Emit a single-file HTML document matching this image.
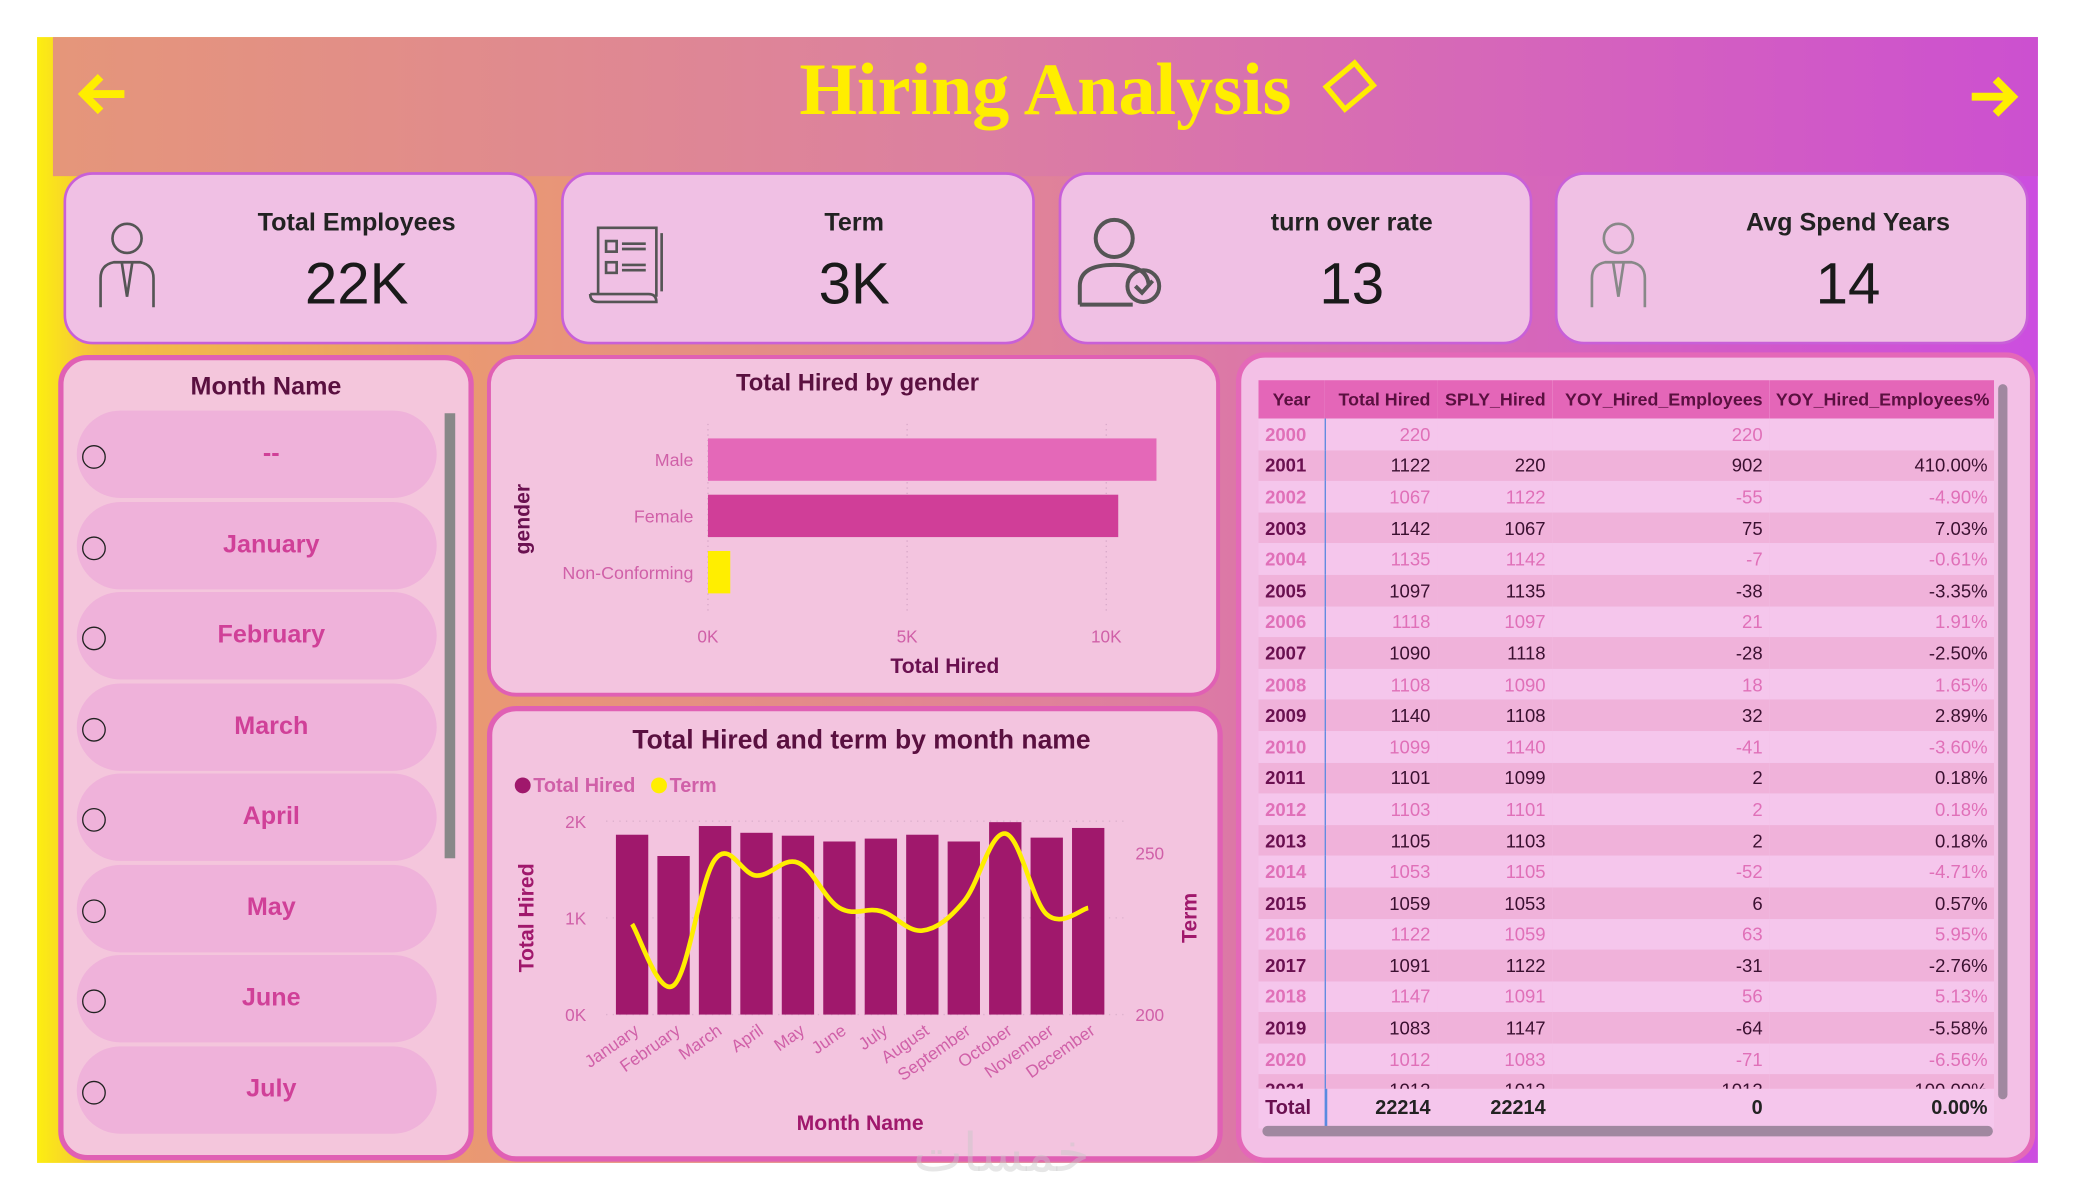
<!DOCTYPE html>
<html><head><meta charset="utf-8"><style>
*{box-sizing:border-box;margin:0;padding:0}
html,body{width:2075px;height:1200px;overflow:hidden;background:#fff;font-family:"Liberation Sans","DejaVu Sans",sans-serif}
#root{position:absolute;left:0;top:0;width:1568px;height:906px;transform:scale(1.3233,1.3245);transform-origin:0 0}
.abs{position:absolute}
#bg{left:28px;top:28px;width:1512px;height:850px;background:linear-gradient(90deg,#fcee10 0%,#f4c040 3%,#ea9a70 20%,#de7ea0 55%,#d25ac8 85%,#cc4ee0 100%)}
#hdr{left:40px;top:28px;width:1500px;height:105px;background:linear-gradient(90deg,#e5967a,#dc80a0 45%,#d460c0 80%,#cc50d0)}
.card{position:absolute;top:130px;width:358px;height:130px;border:2px solid #c860d8;border-radius:22px;background:#f0c0e4}
.card .t{position:absolute;left:0;right:0;top:26px;text-align:center;font-weight:bold;font-size:19px;color:#222;padding-left:85px}
.card .v{position:absolute;left:0;right:0;top:58px;text-align:center;font-size:44px;color:#1a1a1a;padding-left:85px}
.panel{position:absolute;border:4px solid #e060b4;border-radius:22px;background:#f3c4df}
.item{position:absolute;left:10px;width:272px;height:66px;border-radius:33px;background:#efb2da}
.item span{position:absolute;left:22px;right:0;top:22px;text-align:center;font-weight:bold;font-size:19px;color:#d04098}
.radio{position:absolute;left:14px;width:18px;height:18px;border:1.5px solid #222;border-radius:50%}
table{border-collapse:collapse;font-size:14px;table-layout:fixed}
td,th{height:23.6px;padding:0 5px;white-space:nowrap;overflow:hidden}
th{background:#e466b8;color:#5a1040;font-size:13.5px;height:29px;text-align:right}
td{text-align:right}
tr.o td{color:#e070b8;background:#f5c6ec}
tr.e td{color:#3a1030;background:#f0b2da}
td.y{text-align:left;font-weight:bold;border-right:1.5px solid #5a8ae0}
tr.o td.y{color:#e070b8} tr.e td.y{color:#6a1050}
</style></head><body>
<div id="root">
<div class="abs" id="bg"></div>
<div class="abs" id="hdr"></div>
<svg class="abs" style="left:58px;top:54px" width="40" height="34"><path d="M36 17H6M18 4L5 17l13 13" fill="none" stroke="#ffee00" stroke-width="6"/></svg>
<svg class="abs" style="left:1486px;top:56px" width="40" height="34"><path d="M4 17h30M22 4l13 13-13 13" fill="none" stroke="#ffee00" stroke-width="6"/></svg>
<div class="abs" style="left:560px;top:36px;width:460px;text-align:center;font-family:'Liberation Serif',serif;font-weight:bold;font-size:56px;color:#ffee00">Hiring Analysis</div>
<svg class="abs" style="left:994px;top:40px" width="52" height="52"><rect x="12" y="14" width="28" height="22" transform="rotate(-40 26 25)" fill="none" stroke="#ffee00" stroke-width="4"/></svg>

<div class="card" style="left:48px">
<svg class="abs" style="left:20px;top:32px" width="52" height="70"><g fill="none" stroke="#555" stroke-width="2"><circle cx="26" cy="16" r="11"/><path d="M6 68V46q0-10 10-12h20q10 2 10 12v22M22 34l4 26 4-26"/></g></svg>
<div class="t">Total Employees</div><div class="v">22K</div></div>
<div class="card" style="left:424px">
<svg class="abs" style="left:16px;top:34px" width="66" height="64"><g fill="none" stroke="#555" stroke-width="2"><path d="M10 56V6h44v52M4 56h44q6 0 6 6H10q-6 0-6-6"/><rect x="16" y="16" width="8" height="8"/><rect x="16" y="32" width="8" height="8"/><path d="M28 18h18M28 22h18M28 34h18M28 38h18M58 10v44"/></g></svg>
<div class="t">Term</div><div class="v">3K</div></div>
<div class="card" style="left:800px">
<svg class="abs" style="left:10px;top:30px" width="70" height="72"><g fill="none" stroke="#555" stroke-width="3"><circle cx="30" cy="18" r="14"/><path d="M4 68V54q0-16 26-16t26 16M4 68h40"/><circle cx="52" cy="54" r="12"/><path d="M46 54l5 5 8-9"/></g></svg>
<div class="t">turn over rate</div><div class="v">13</div></div>
<div class="card" style="left:1175px">
<svg class="abs" style="left:20px;top:32px" width="52" height="70"><g fill="none" stroke="#888" stroke-width="2"><circle cx="26" cy="16" r="11"/><path d="M6 68V46q0-10 10-12h20q10 2 10 12v22M22 34l4 26 4-26"/></g></svg>
<div class="t">Avg Spend Years</div><div class="v">14</div></div>

<!-- Slicer -->
<div class="panel" style="left:44px;top:268px;width:314px;height:608px;background:#f4c6dc">
<div class="abs" style="left:0;right:0;top:10px;text-align:center;font-weight:bold;font-size:19px;color:#5a1040">Month Name</div>
<div class="abs" style="left:288px;top:40px;width:8px;height:336px;background:#888"></div>
<div class="item" style="top:38px"><span>--</span></div>
<div class="item" style="top:107px"><span>January</span></div>
<div class="item" style="top:175px"><span>February</span></div>
<div class="item" style="top:244px"><span>March</span></div>
<div class="item" style="top:312px"><span>April</span></div>
<div class="item" style="top:381px"><span>May</span></div>
<div class="item" style="top:449px"><span>June</span></div>
<div class="item" style="top:518px"><span>July</span></div>
<div class="radio" style="top:64px"></div>
<div class="radio" style="top:133px"></div>
<div class="radio" style="top:201px"></div>
<div class="radio" style="top:270px"></div>
<div class="radio" style="top:338px"></div>
<div class="radio" style="top:407px"></div>
<div class="radio" style="top:475px"></div>
<div class="radio" style="top:544px"></div>
</div>

<!-- Gender chart -->
<div class="panel" style="left:368px;top:268px;width:554px;height:258px;border-width:3px"></div>
<svg class="abs" id="gsvg" style="left:0;top:0" width="1568" height="906"></svg>

<!-- Month chart -->
<div class="panel" style="left:368px;top:533px;width:556px;height:344px"></div>
<svg class="abs" id="msvg" style="left:0;top:0" width="1568" height="906"></svg>

<!-- Table -->
<div class="panel" style="left:934px;top:266px;width:604px;height:612px;background:#f3c0e6;border-color:#e468b8">
<div class="abs" style="left:13px;top:17px;width:556px;height:565px;overflow:hidden">
<table style="width:556px">
<colgroup><col style="width:50px"><col style="width:85px"><col style="width:87px"><col style="width:164px"><col style="width:170px"></colgroup>
<thead><tr><th style="text-align:center">Year</th><th>Total Hired</th><th>SPLY_Hired</th><th>YOY_Hired_Employees</th><th>YOY_Hired_Employees%</th></tr></thead>
<tbody id="tb"></tbody>
</table>
<div class="abs" style="left:0;top:535px;width:556px;height:30px;background:#f5c6ec;font-weight:bold;font-size:15px;color:#222">
<span class="abs" style="left:5px;top:6px;color:#6a1050">Total</span><span class="abs" style="right:426px;top:6px">22214</span><span class="abs" style="right:339px;top:6px">22214</span><span class="abs" style="right:175px;top:6px">0</span><span class="abs" style="right:5px;top:6px">0.00%</span>
<div class="abs" style="left:50px;top:0;width:1.5px;height:30px;background:#5a8ae0"></div></div>
</div>
<div class="abs" style="left:572px;top:20px;width:7px;height:540px;background:#a088a0;border-radius:4px"></div>
<div class="abs" style="left:16px;top:580px;width:552px;height:8px;background:#a088a0;border-radius:4px"></div>
</div>
<div class="abs" style="left:690px;top:848px;font-size:40px;color:rgba(200,200,200,0.45);font-family:'DejaVu Sans',sans-serif">خمسات</div>
</div>

<script>
const NS="http://www.w3.org/2000/svg";
function mk(p,t,a,txt){const e=document.createElementNS(NS,t);for(const k in a)e.setAttribute(k,a[k]);if(txt!==undefined)e.textContent=txt;p.appendChild(e);return e;}

// ---- gender chart data ----
const genderCats=["Male","Female","Non-Conforming"];
const genderVals=[11260,10300,560];
const genderColors=["#e468b8","#d03e98","#ffee00"];
const genderTicks=[0,5000,10000];
const genderTickLabels=["0K","5K","10K"];

// ---- month chart data ----
const months=["January","February","March","April","May","June","July","August","September","October","November","December"];
const hiredVals=[1860,1640,1950,1880,1850,1790,1820,1860,1790,1990,1830,1930];
const termVals=[228,209,248,243,247,233,232,226,235,256,231,233];
const hiredTicks=[0,1000,2000];
const hiredTickLabels=["0K","1K","2K"];
const termTicks=[200,250];

// ---- table data ----
const years=[2000,2001,2002,2003,2004,2005,2006,2007,2008,2009,2010,2011,2012,2013,2014,2015,2016,2017,2018,2019,2020,2021];
const totalHired=[220,1122,1067,1142,1135,1097,1118,1090,1108,1140,1099,1101,1103,1105,1053,1059,1122,1091,1147,1083,1012,1012];
const splyHired=["",220,1122,1067,1142,1135,1097,1118,1090,1108,1140,1099,1101,1103,1105,1053,1059,1122,1091,1147,1083,1012];
const yoyHired=[220,902,-55,75,-7,-38,21,-28,18,32,-41,2,2,2,-52,6,63,-31,56,-64,-71,-1012];
const yoyPct=["","410.00%","-4.90%","7.03%","-0.61%","-3.35%","1.91%","-2.50%","1.65%","2.89%","-3.60%","0.18%","0.18%","0.18%","-4.71%","0.57%","5.95%","-2.76%","5.13%","-5.58%","-6.56%","-100.00%"];

// gender chart
(function(){
 const s=document.getElementById('gsvg');
 const x0=535,x1=836,xMax=10000;
 const gx=v=>x0+(v/xMax)*(x1-x0);
 const bandTop=331,band=42.5,bh=32;
 let t=mk(s,'text',{x:648,y:295,'text-anchor':'middle','font-size':18,'font-weight':'bold',fill:'#5a1040'},'Total Hired by gender');
 
 genderTicks.forEach((v,i)=>{
  const g=mk(s,'line',{x1:gx(v),x2:gx(v),y1:320,y2:462,stroke:'#d8a8c8','stroke-dasharray':'1 3'});
  
  const l=mk(s,'text',{x:gx(v),y:485,'text-anchor':'middle','font-size':13,fill:'#d060a8'},genderTickLabels[i]);
  
 });
 genderCats.forEach((c,i)=>{
  const y=bandTop+i*band;
  const r=mk(s,'rect',{x:x0,y:y,width:gx(genderVals[i])-x0,height:bh,fill:genderColors[i]});
  
  const l=mk(s,'text',{x:524,y:y+bh/2+5,'text-anchor':'end','font-size':13.5,fill:'#d060a8'},c);
  
 });
 let a=mk(s,'text',{x:714,y:508,'text-anchor':'middle','font-size':16,'font-weight':'bold',fill:'#6a1050'},'Total Hired');
 
 let b=mk(s,'text',{x:0,y:0,transform:'translate(400,392) rotate(-90)','text-anchor':'middle','font-size':16,'font-weight':'bold',fill:'#6a1050'},'gender');
 
})();

// month chart
(function(){
 const s=document.getElementById('msvg');
 const yBase=766,yTop2k=620;
 const hy=v=>yBase-(v/2000)*(yBase-yTop2k);
 const ty=v=>yBase-((v-200)/50)*(yBase-644);
 const xL=462,xR=838,n=months.length,bw=(xR-xL)/n;
 const cx=i=>xL+bw*(i+0.5);
 let t=mk(s,'text',{x:651,y:565,'text-anchor':'middle','font-size':20,'font-weight':'bold',fill:'#5a1040'},'Total Hired and term by month name');
 
 let c1=mk(s,'circle',{cx:395,cy:593,r:6,fill:'#a0186c'});
 let l1=mk(s,'text',{x:403,y:598,'font-size':15,'font-weight':'bold',fill:'#d060a8'},'Total Hired');
 let c2=mk(s,'circle',{cx:498,cy:593,r:6,fill:'#ffee00'});
 let l2=mk(s,'text',{x:506,y:598,'font-size':15,'font-weight':'bold',fill:'#d060a8'},'Term');
 hiredTicks.forEach((v,i)=>{
  const g=mk(s,'line',{x1:458,x2:850,y1:hy(v),y2:hy(v),stroke:'#dcb0cc','stroke-dasharray':'1 4'});
  
  const l=mk(s,'text',{x:443,y:hy(v)+5,'text-anchor':'end','font-size':13,fill:'#d060a8'},hiredTickLabels[i]);
  
 });
 termTicks.forEach(v=>{
  const l=mk(s,'text',{x:858,y:ty(v)+5,'font-size':13,fill:'#d060a8'},String(v));
  
 });
 months.forEach((m,i)=>{
  const r=mk(s,'rect',{x:cx(i)-bw*0.39,y:hy(hiredVals[i]),width:bw*0.78,height:yBase-hy(hiredVals[i]),fill:'#a0186c'});
  
  const l=mk(s,'text',{x:0,y:0,transform:`translate(${cx(i)+6},${780}) rotate(-35)`,'text-anchor':'end','font-size':13,fill:'#d060a8'},m);
  
 });
 const pts=termVals.map((v,i)=>[cx(i),ty(v)]);
 let d='M'+pts[0][0]+','+pts[0][1];
 for(let i=0;i<pts.length-1;i++){
  const p0=pts[Math.max(0,i-1)],p1=pts[i],p2=pts[i+1],p3=pts[Math.min(pts.length-1,i+2)];
  const k=0.18;
  d+=` C${p1[0]+(p2[0]-p0[0])*k},${p1[1]+(p2[1]-p0[1])*k} ${p2[0]-(p3[0]-p1[0])*k},${p2[1]-(p3[1]-p1[1])*k} ${p2[0]},${p2[1]}`;
 }
 const line=mk(s,'path',{d:d,fill:'none',stroke:'#ffee00','stroke-width':3.5});
 
 let a=mk(s,'text',{x:650,y:853,'text-anchor':'middle','font-size':16,'font-weight':'bold',fill:'#a0186c'},'Month Name');
 
 let b=mk(s,'text',{x:0,y:0,transform:'translate(403,693) rotate(-90)','text-anchor':'middle','font-size':16,'font-weight':'bold',fill:'#a0186c'},'Total Hired');
 
 let c=mk(s,'text',{x:0,y:0,transform:'translate(904,693) rotate(-90)','text-anchor':'middle','font-size':16,'font-weight':'bold',fill:'#a0186c'},'Term');
 
})();

// table
(function(){
 const tb=document.getElementById('tb');
 years.forEach((y,i)=>{
  const tr=document.createElement('tr');
  tr.className=i%2?'e':'o';
  
  
  tr.innerHTML=`<td class="y">${y}</td><td>${totalHired[i]}</td><td>${splyHired[i]}</td><td>${yoyHired[i]}</td><td>${yoyPct[i]}</td>`;
  tb.appendChild(tr);
 });
})();
</script>
</body></html>
